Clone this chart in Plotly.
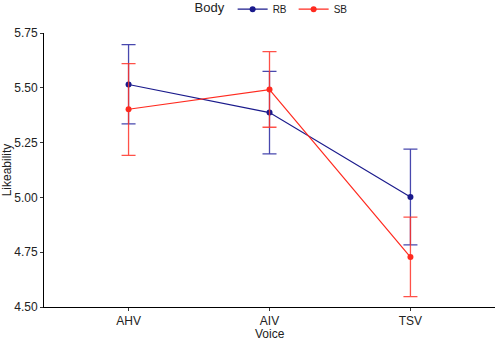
import plotly.graph_objects as go

voices = ["AHV", "AIV", "TSV"]
rb_mean = [5.515, 5.387, 5.002]
rb_upper = [5.697, 5.575, 5.220]
rb_lower = [5.335, 5.199, 4.783]
sb_mean = [5.402, 5.492, 4.728]
sb_upper = [5.610, 5.665, 4.910]
sb_lower = [5.192, 5.320, 4.547]

series = [
    ("RB", rb_mean, rb_upper, rb_lower, "#1a1a8c", "rgba(40,40,160,0.85)"),
    ("SB", sb_mean, sb_upper, sb_lower, "#ff2a1f", "rgba(255,50,40,0.85)"),
]

fig = go.Figure()
for name, m, u, l, col, ecol in series:
    fig.add_trace(go.Scatter(
        x=voices, y=m, name=name, mode="lines+markers",
        line=dict(color=col, width=1.2),
        marker=dict(color=col, size=6),
        error_y=dict(type="data", symmetric=False,
                     array=[a - b for a, b in zip(u, m)],
                     arrayminus=[b - c for b, c in zip(m, l)],
                     color=ecol, thickness=1.3, width=7),
    ))

fig.update_layout(
    width=498, height=340,
    margin=dict(l=44, r=3, t=33, b=33, autoexpand=False),
    paper_bgcolor="white", plot_bgcolor="white",
    font=dict(family="Liberation Sans, Arial, sans-serif", size=12, color="#222"),
    legend=dict(orientation="h", x=0.51, xanchor="center", y=1.14, yanchor="top",
                yref="paper", title=dict(text="Body", font=dict(size=13)),
                font=dict(size=10), itemwidth=30, entrywidth=16, tracegroupgap=0),
    showlegend=True,
    annotations=[dict(text="Voice", x=0.5, xref="paper", y=0, yref="paper",
                      yshift=-27, yanchor="middle", showarrow=False,
                      font=dict(size=12, color="#222"))],
)
fig.update_xaxes(range=[-0.6, 2.6], showgrid=False, zeroline=False, automargin=False,
                 showline=True, linecolor="black", linewidth=1,
                 ticks="outside", ticklen=3, tickcolor="#333",
                 tickfont=dict(size=12, color="#222"))
fig.update_yaxes(range=[4.5, 5.75], showgrid=False, zeroline=False, automargin=False,
                 showline=True, linecolor="black", linewidth=1,
                 ticks="outside", ticklen=3, tickcolor="#333",
                 tickvals=[4.5, 4.75, 5.0, 5.25, 5.5, 5.75],
                 ticktext=["4.50", "4.75", "5.00", "5.25", "5.50", "5.75"],
                 title=dict(text="Likeability", standoff=0, font=dict(size=12)),
                 tickfont=dict(size=12, color="#222"))

fig.write_html("out.html", config={"displayModeBar": False},
               post_script="document.body.style.margin='0px';")
